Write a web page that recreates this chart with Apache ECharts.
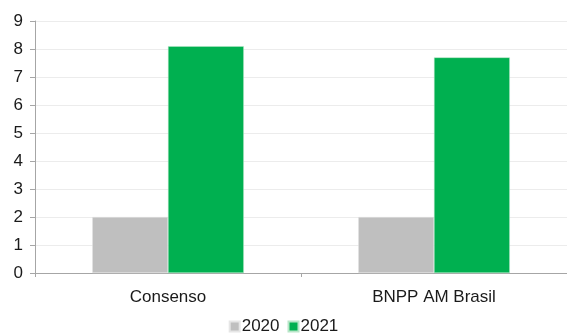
<!DOCTYPE html>
<html>
<head>
<meta charset="utf-8">
<script src="https://cdn.jsdelivr.net/npm/echarts@6/dist/echarts.min.js"></script>
<style>
  html, body { margin: 0; padding: 0; background: #fff; }
  #chart { width: 567px; height: 336px; }
</style>
</head>
<body>
<div id="chart"></div>
<script>
// === Datos ===================================================================
const categories = ['Consenso', 'BNPP AM Brasil'];
const s2020 = [2.0, 2.0];
const s2021 = [8.1, 7.7];
const yTicks = [0, 1, 2, 3, 4, 5, 6, 7, 8, 9];

// === Paleta ==================================================================
const gray = '#bfbfbf', green = '#00b050', axis = '#a6a6a6', grid = '#ececec', txt = '#1a1a1a';
const font = '"Liberation Sans", Arial, sans-serif';

const chart = echarts.init(document.getElementById('chart'));
chart.setOption({
  animation: false,
  textStyle: { fontFamily: font },
  grid: { left: 35, right: 0, top: 21, bottom: 63 },
  legend: {
    bottom: -4, left: 'center', itemWidth: 10, itemHeight: 10, itemGap: 8,
    icon: 'rect',
    textStyle: { color: txt, fontSize: 17, fontFamily: font, padding: [0, 0, 0, -3] },
    data: ['2020', '2021']
  },
  xAxis: {
    type: 'category',
    data: categories,
    axisLine: { lineStyle: { color: axis } },
    axisTick: { show: true, length: 4, lineStyle: { color: axis } },
    axisLabel: { color: txt, fontSize: 17, margin: 16, fontFamily: font }
  },
  yAxis: {
    type: 'value',
    min: yTicks[0], max: yTicks[yTicks.length - 1], interval: 1,
    axisLine: { show: true, lineStyle: { color: axis } },
    axisTick: { show: true, length: 5, lineStyle: { color: axis } },
    axisLabel: { color: txt, fontSize: 17, margin: 12, fontFamily: font },
    splitLine: { lineStyle: { color: grid } }
  },
  series: [
    { name: '2020', type: 'bar', data: s2020, barGap: '0%', barCategoryGap: '43%',
      itemStyle: { color: gray, borderColor: '#e6e6e6', borderWidth: 0.5 } },
    { name: '2021', type: 'bar', data: s2021, barGap: '0%', barCategoryGap: '43%',
      itemStyle: { color: green, borderColor: '#b8e6c8', borderWidth: 0.5 } }
  ]
});
</script>
</body>
</html>
